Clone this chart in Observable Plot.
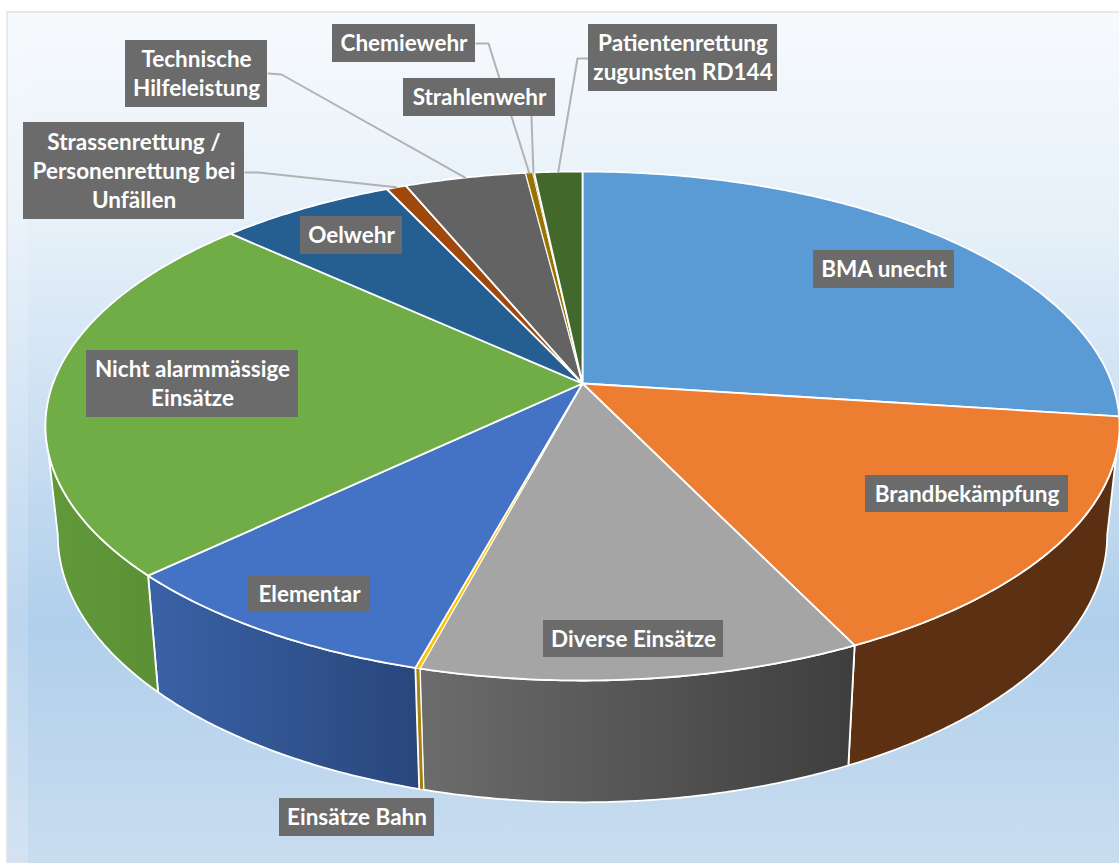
<!DOCTYPE html>
<html><head><meta charset="utf-8">
<style>html,body{margin:0;padding:0;background:#fff}svg{display:block}</style>
<script src="https://cdn.jsdelivr.net/npm/d3@7"></script>
<script src="https://cdn.jsdelivr.net/npm/@observablehq/plot@0.6"></script>
</head><body><script>
// Data (share in %)
const categories = ["BMA unecht","Brandbekämpfung","Diverse Einsätze","Einsätze Bahn","Elementar","Nicht alarmmässige\nEinsätze","Oelwehr","Strassenrettung /\nPersonenrettung bei\nUnfällen","Technische\nHilfeleistung","Chemiewehr","Strahlenwehr","Patientenrettung\nzugunsten RD144"];
const values = [27.1,15.75,11.35,0.12,8.68,23.85,6.25,0.7,4.3,0.25,0.05,1.7];
const colors = ["#5B9BD5","#ED7D31","#A5A5A5","#FFC000","#4472C4","#70AD47","#255E91","#9E480E","#636363","#997300","#264478","#43682B"];
const wallLeft = ["#355E85","#5E3113","#6C6C6C","#B08A10","#3A62A6","#619A3A","#1E4A73","#6A300A","#444","#6A5000","#1A2F52","#2E481E"];
const wallRight = ["#2D5070","#5A2F12","#3E3E3E","#A07A10","#29467C","#5C8F36","#1E4A73","#6A300A","#444","#6A5000","#1A2F52","#2E481E"];

// Layout of the labels (box left, top, right, bottom) and leader elbows
const boxes = [[813,250,954,288],[865,475,1068,512],[543,620,723,657],[279,798,434,836],[248,575,370,612],[86,350,298,417],[300,216,402,254],[23,122,244,219],[125,40,267,107],[332,24,475,62],[403,78,555,116],[588,24,777,91]];
const leaders = {7:[[245,172],[258,172]],8:[[268,73],[281,74]],9:[[476,43],[488,43]],10:[[531,116]],11:[[588,58],[577,58]]};

// Perspective projection of the pie disc
const cx = 582, cy = 383, k = 0.167, a = 247.4, A = 529.5;
const total = d3.sum(values);
const project = t => { const u = Math.sin(t), v = -Math.cos(t), d = 1 - k * v; return [cx + A * u / d, cy + a * v / d]; };
const drop = ([X, Y]) => [cx + 0.977 * (X - cx), Y + 121 + 0.05 * (Y - 664)];
const arcPts = (t0, t1) => { const n = Math.max(2, Math.ceil((t1 - t0) / 0.01)); return d3.range(n + 1).map(i => project(t0 + (t1 - t0) * i / n)); };
let acc = 0;
const slices = values.map((v, i) => { const s = {i, t0: acc / total * 2 * Math.PI, t1: (acc + v) / total * 2 * Math.PI}; acc += v; return s; });

const tanR = Math.acos(-k), tanL = 2 * Math.PI - tanR;
const wallMarks = slices.filter(s => s.t1 > tanR && s.t0 < tanL).map(s => {
  const arc = arcPts(Math.max(s.t0, tanR), Math.min(s.t1, tanL));
  const poly = [...arc, ...arc.slice().reverse().map(drop), arc[0]];
  return Plot.line(poly, {x: d => d[0], y: d => d[1], fill: `url(#wall${s.i})`, stroke: "white", strokeWidth: s.t1 - s.t0 < 0.03 ? 1 : 1.8, strokeLinejoin: "round"});
});
const topMarks = slices.map(s => Plot.line([[cx, cy], ...arcPts(s.t0, s.t1), [cx, cy]], {x: d => d[0], y: d => d[1], fill: colors[s.i], stroke: "white", strokeWidth: s.t1 - s.t0 < 0.03 ? 0.8 : 1.8, strokeLinejoin: "round"}));

const leaderMarks = Object.entries(leaders).map(([i, pts]) => {
  const s = slices[+i];
  const end = project((s.t0 + s.t1) / 2);
  return Plot.line([...pts, end], {x: d => d[0], y: d => d[1], stroke: "#B2B2B2", strokeWidth: 2});
});

const labels = categories.map((c, i) => ({label: c, x1: boxes[i][0], y1: boxes[i][1], x2: boxes[i][2], y2: boxes[i][3]}));

const defs = () => {
  const d = d3.create("svg:defs");
  const grad = (id, stops, vertical) => {
    const g = d.append("linearGradient").attr("id", id).attr("x1", 0).attr("y1", 0).attr("x2", vertical ? 0 : 1).attr("y2", vertical ? 1 : 0);
    stops.forEach(([o, c]) => g.append("stop").attr("offset", o).attr("stop-color", c));
  };
  grad("bgMain", [[0, "#F7FAFD"], [0.25, "#E6F0F9"], [0.72, "#B0CFEB"], [1, "#C9DDF0"]], true);
  grad("bgEdge", [[0, "#F7FAFD"], [0.25, "#EAF2FA"], [0.72, "#BCD6EE"], [1, "#D3E3F3"]], true);
  values.forEach((_, i) => grad(`wall${i}`, [[0, wallLeft[i]], [1, wallRight[i]]]));
  return d.node();
};

const plot = Plot.plot({
  width: 1119, height: 863, margin: 0,
  x: {domain: [0, 1119], range: [0, 1119], axis: null},
  y: {domain: [0, 863], range: [0, 863], axis: null},
  marks: [
    defs,
    Plot.rect([{x1: 7, x2: 1119, y1: 12, y2: 863}], {x1: "x1", x2: "x2", y1: "y1", y2: "y2", fill: "url(#bgEdge)", stroke: "#E2E2E2", strokeWidth: 1.5}),
    Plot.rect([{x1: 28, x2: 1119, y1: 13, y2: 863}], {x1: "x1", x2: "x2", y1: "y1", y2: "y2", fill: "url(#bgMain)"}),
    ...wallMarks,
    ...topMarks,
    ...leaderMarks,
    Plot.rect(labels, {x1: "x1", x2: "x2", y1: "y1", y2: "y2", fill: "#6B6B6B"}),
    Plot.text(labels, {x: d => (d.x1 + d.x2) / 2, y: d => (d.y1 + d.y2) / 2 - 1.5, text: "label", fill: "white", fontFamily: "Lato", fontWeight: 700, fontSize: 22.5, lineHeight: 1.29, textAnchor: "middle", lineAnchor: "middle"})
  ]
});
document.body.append(plot);
</script></body></html>
